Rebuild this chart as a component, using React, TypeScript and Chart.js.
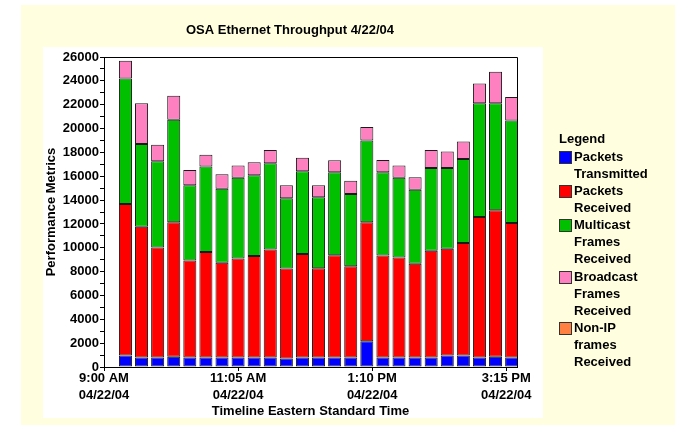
import React, { useEffect, useRef } from 'react';
import { Chart, registerables } from 'chart.js';

Chart.register(...registerables);

const FONT = '"Liberation Sans", Arial, Helvetica, sans-serif';

const chartTitle = 'OSA Ethernet Throughput 4/22/04';
const xAxisTitle = 'Timeline Eastern Standard Time';
const yAxisTitle = 'Performance Metrics';
const legendTitle = 'Legend';

// Sample times (Eastern Standard Time)
const sampleTimes = [
  '9:20', '9:35', '9:50', '10:05', '10:20', '10:35', '10:50', '11:05', '11:20',
  '11:35', '11:50', '12:05', '12:20', '12:35', '12:50', '13:05', '13:20', '13:35',
  '13:50', '14:05', '14:20', '14:35', '14:50', '15:05', '15:20',
];

const packetsTransmitted = [
  960, 790, 790, 870, 790, 790, 790, 790, 790, 790, 710, 790, 790, 790, 790, 2160,
  790, 790, 790, 790, 960, 960, 790, 870, 790,
];
const packetsReceived = [
  12710, 10980, 9240, 11260, 8150, 8850, 7950, 8320, 8510, 9070, 7560, 8680, 7500,
  8580, 7670, 9970, 8570, 8400, 7870, 8960, 8960, 9440, 11790, 12270, 11290,
];
const multicastReceived = [
  10530, 6940, 7230, 8600, 6300, 7170, 6220, 6770, 6780, 7230, 5880, 6950, 5950,
  6970, 6050, 6860, 6980, 6690, 6210, 6950, 6780, 7050, 9550, 8990, 8590,
];
const broadcastReceived = [
  1490, 3420, 1370, 2020, 1290, 1000, 1210, 1010, 1100, 1100, 1090, 1140, 1000,
  1000, 1120, 1130, 1030, 1010, 1050, 1490, 1370, 1460, 1650, 2640, 1970,
];
const nonIpReceived = [
  0, 0, 0, 0, 0, 0, 0, 0, 0, 0, 0, 0, 0, 0, 0, 0, 0, 0, 0, 0, 0, 0, 0, 0, 0,
];

const seriesValues = [
  packetsTransmitted,
  packetsReceived,
  multicastReceived,
  broadcastReceived,
  nonIpReceived,
];
const seriesNames = [
  ['Packets', 'Transmitted'],
  ['Packets', 'Received'],
  ['Multicast', 'Frames', 'Received'],
  ['Broadcast', 'Frames', 'Received'],
  ['Non-IP', 'frames', 'Received'],
];
const seriesColors = ['#0000FF', '#FF0000', '#00C000', '#FF80C0', '#FF8040'];

// x-axis ticks
const axisStartTime = '9:00';
const axisEndTime = '15:25';
const xTickTimes = ['9:00', '11:05', '13:10', '15:15'];
const xTickLabels = ['9:00 AM', '11:05 AM', '1:10 PM', '3:15 PM'];
const xTickDate = '04/22/04';

// y-axis ticks
const yMin = 0;
const yMax = 26000;
const yTickStep = 1000;
const yLabelStep = 2000;

const toMinutes = (t: string) => {
  const [h, m] = t.split(':').map(Number);
  return h * 60 + m;
};
const offsetMinutes = (t: string) => toMinutes(t) - toMinutes(axisStartTime);

const tickFont = { family: FONT, size: 13, weight: 'bold' as const };

const decorPlugin = {
  id: 'decor',
  beforeDraw(chart: any) {
    const { ctx, width, height } = chart;
    ctx.save();
    ctx.fillStyle = '#FFFFFF';
    ctx.fillRect(0, 0, width, height);
    ctx.fillStyle = '#FFFFE0';
    ctx.fillRect(21, 5, width - 21, height - 5);
    ctx.fillStyle = '#FFFFFF';
    ctx.fillRect(43, 47, 500, 371);
    ctx.restore();
  },
  afterDraw(chart: any) {
    const { ctx, chartArea } = chart;
    ctx.save();
    // plot frame (top and right)
    ctx.strokeStyle = '#000000';
    ctx.lineWidth = 1;
    const l = Math.round(chartArea.left) + 0.5;
    const r = Math.round(chartArea.right) + 0.5;
    const t = Math.round(chartArea.top) + 0.5;
    const b = Math.round(chartArea.bottom) + 0.5;
    ctx.beginPath();
    ctx.moveTo(l, t);
    ctx.lineTo(r, t);
    ctx.lineTo(r, b);
    ctx.stroke();

    // title
    ctx.fillStyle = '#000000';
    ctx.font = `bold 13px ${FONT}`;
    ctx.textAlign = 'center';
    ctx.textBaseline = 'middle';
    ctx.fillText(chartTitle, 290, 30);

    // legend
    ctx.textAlign = 'left';
    const lx = 559;
    const lh = 17.1;
    ctx.fillText(legendTitle, lx, 139);
    let y = 157.3;
    seriesNames.forEach((lines, i) => {
      ctx.fillStyle = seriesColors[i];
      ctx.fillRect(lx, Math.round(y - 6.5), 13, 13);
      ctx.strokeStyle = '#333333';
      ctx.strokeRect(lx + 0.5, Math.round(y - 6.5) + 0.5, 12, 12);
      ctx.fillStyle = '#000000';
      lines.forEach((ln, k) => ctx.fillText(ln, lx + 15, y + k * lh));
      y += lines.length * lh;
    });
    ctx.restore();
  },
};

export default function App() {
  const canvasRef = useRef<HTMLCanvasElement | null>(null);

  useEffect(() => {
    if (!canvasRef.current) return;
    const datasets = seriesValues.map((vals, i) => ({
      label: seriesNames[i].join(' '),
      data: vals.map((v, j) => ({ x: offsetMinutes(sampleTimes[j]), y: v })),
      backgroundColor: seriesColors[i],
      borderColor: '#1A1A1A',
      borderWidth: 1,
      borderSkipped: false as const,
      categoryPercentage: 1,
      barPercentage: 0.81,
    }));

    const yTicks: number[] = [];
    for (let v = yMin; v <= yMax; v += yTickStep) yTicks.push(v);

    const chart = new Chart(canvasRef.current, {
      type: 'bar',
      data: { datasets },
      plugins: [decorPlugin],
      options: {
        responsive: false,
        animation: false,
        layout: { padding: { left: 43, top: 57, right: 158, bottom: 0 } },
        plugins: {
          legend: { display: false },
          title: { display: false },
          tooltip: { enabled: false },
        },
        scales: {
          x: {
            type: 'linear',
            stacked: true,
            offset: false,
            min: 0,
            max: offsetMinutes(axisEndTime),
            afterBuildTicks: (s: any) => {
              s.ticks = xTickTimes.map((t) => ({ value: offsetMinutes(t) }));
            },
            afterFit: (s: any) => {
              s.height = 58;
            },
            grid: {
              offset: false,
              drawOnChartArea: false,
              drawTicks: true,
              tickLength: 4,
              color: '#000000',
            },
            border: { display: true, color: '#000000', width: 1 },
            ticks: {
              autoSkip: false,
              maxRotation: 0,
              minRotation: 0,
              padding: -1,
              color: '#000000',
              font: { ...tickFont, lineHeight: 1.3 },
              callback: (_v: any, i: number) => [xTickLabels[i], xTickDate],
            },
            title: {
              display: true,
              text: xAxisTitle,
              color: '#000000',
              font: tickFont,
              padding: { top: 0, bottom: 6 },
            },
          },
          y: {
            type: 'linear',
            stacked: true,
            min: yMin,
            max: yMax,
            afterBuildTicks: (s: any) => {
              s.ticks = yTicks.map((v) => ({ value: v }));
            },
            afterFit: (s: any) => {
              s.width = 61;
            },
            grid: {
              drawOnChartArea: false,
              drawTicks: true,
              tickLength: 4,
              color: '#000000',
            },
            border: { display: true, color: '#000000', width: 1 },
            ticks: {
              autoSkip: false,
              padding: 1,
              color: '#000000',
              font: tickFont,
              callback: (v: any) => (Number(v) % yLabelStep === 0 ? String(v) : ''),
            },
            title: {
              display: true,
              text: yAxisTitle,
              color: '#000000',
              font: tickFont,
              padding: { top: 1, bottom: 0 },
            },
          },
        },
      },
    });
    return () => chart.destroy();
  }, []);

  return (
    <div style={{ position: 'fixed', left: 0, top: 0, width: 675, height: 425 }}>
      <canvas ref={canvasRef} width={675} height={425} style={{ display: 'block' }} />
    </div>
  );
}
